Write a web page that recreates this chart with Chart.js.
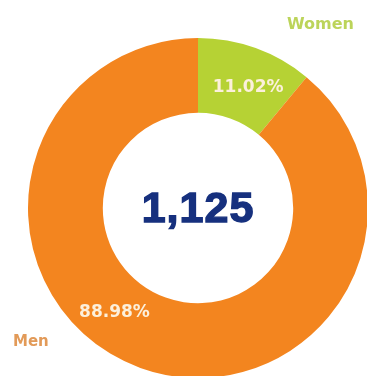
<!DOCTYPE html>
<html>
<head>
<meta charset="utf-8">
<script src="https://cdn.jsdelivr.net/npm/chart.js@4"></script>
<style>
  html, body { margin: 0; padding: 0; background: #fff; overflow: hidden; }
  #wrap { position: relative; width: 370px; height: 380px; }
</style>
</head>
<body>
<div id="wrap"><canvas id="genderChart"></canvas></div>
<script>
const categories = ['Women', 'Men'];
const shares = [11.02, 88.98];
const totalLabel = '1,125';

const sliceColors = ['#b6d234', '#f3851f'];
const nameColors = ['#bcd45a', '#e29a58'];

// percentages sit along the ring, names outside it, total in the hole
const ringText = {
  id: 'ringText',
  afterDatasetsDraw(chart) {
    const ctx = chart.ctx;
    const meta = chart.getDatasetMeta(0);
    const area = chart.chartArea;
    ctx.save();
    ctx.textAlign = 'center';
    ctx.textBaseline = 'middle';

    meta.data.forEach((arc, i) => {
      const p = arc.getProps(['x', 'y', 'startAngle', 'endAngle', 'innerRadius', 'outerRadius'], true);
      const a = p.startAngle + (p.endAngle - p.startAngle) * 0.56;
      const r = (p.innerRadius + p.outerRadius) / 2;
      ctx.font = 'bold 17px "DejaVu Sans"';
      ctx.fillStyle = '#fcf0dc';
      ctx.fillText(shares[i].toFixed(2) + '%', p.x + r * Math.cos(a), p.y + r * Math.sin(a) + 2);
    });

    const c = meta.data[0];
    ctx.font = 'bold 43px "Liberation Sans"';
    ctx.letterSpacing = '1px';
    ctx.fillStyle = '#16307e';
    ctx.strokeStyle = '#16307e';
    ctx.lineWidth = 1.4;
    ctx.strokeText(totalLabel, c.x, c.y + 2);
    ctx.fillText(totalLabel, c.x, c.y + 2);
    ctx.letterSpacing = '0px';

    ctx.font = 'bold 16px "DejaVu Sans"';
    ctx.textAlign = 'right';
    ctx.fillStyle = nameColors[0];
    ctx.fillText(categories[0], area.right - 14, area.top - 13);
    ctx.font = 'bold 15px "DejaVu Sans"';
    ctx.textAlign = 'left';
    ctx.fillStyle = nameColors[1];
    ctx.fillText(categories[1], area.left - 15, area.bottom - 36);
    ctx.restore();
  }
};

new Chart(document.getElementById('genderChart'), {
  type: 'doughnut',
  data: {
    labels: categories,
    datasets: [{
      data: shares,
      backgroundColor: sliceColors,
      borderWidth: 0
    }]
  },
  options: {
    responsive: true,
    maintainAspectRatio: false,
    animation: false,
    cutout: '56%',
    layout: { padding: { left: 28, top: 38, right: 2, bottom: 2 } },
    plugins: {
      legend: { display: false },
      tooltip: { enabled: false }
    }
  },
  plugins: [ringText]
});
</script>
</body>
</html>
